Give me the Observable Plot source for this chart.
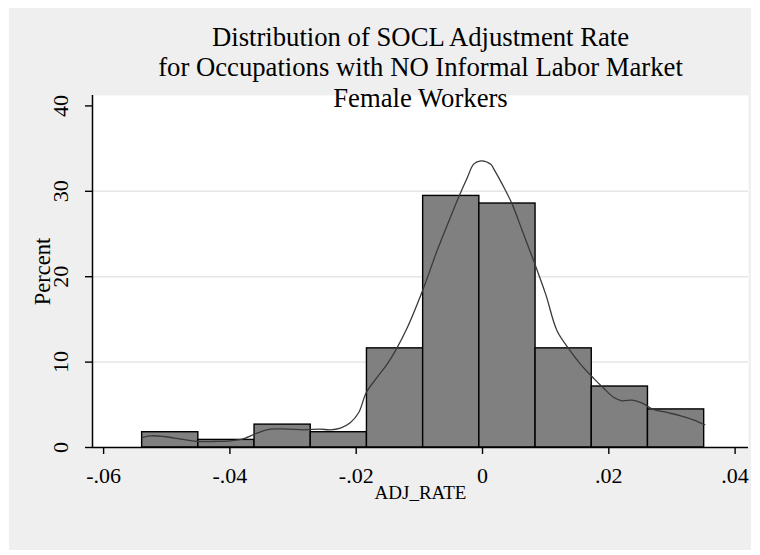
<!DOCTYPE html>
<html>
<head>
<meta charset="utf-8">
<script src="https://cdn.jsdelivr.net/npm/d3@7"></script>
<script src="https://cdn.jsdelivr.net/npm/@observablehq/plot@0.6"></script>
<style>
  html, body { margin: 0; padding: 0; background: #ffffff; }
  #wrap { position: relative; width: 760px; height: 555px; background: #ffffff; overflow: hidden; }
  #bg { position: absolute; left: 9px; top: 8px; width: 742px; height: 542px; background: #efefef; }
  #chart { position: absolute; left: 0; top: 0; }
  #chart svg { background: transparent; }
</style>
</head>
<body>
<div id="wrap"><div id="bg"></div><div id="chart"></div></div>
<script>
// ---- Data ----
const titleLines = [
  "Distribution of SOCL Adjustment Rate",
  "for Occupations with NO Informal Labor Market",
  "Female Workers"
];
const xLabel = "ADJ_RATE";
const yLabel = "Percent";

// histogram bin edges (ADJ_RATE) and bar heights (percent)
const binEdges = [-0.0539, -0.0450, -0.0361, -0.0272, -0.0183, -0.0094, -0.0005, 0.0084, 0.0173, 0.0262, 0.0351];
const binPercent = [1.79, 0.89, 2.68, 1.79, 11.61, 29.46, 28.57, 11.61, 7.14, 4.46];

// kernel density curve (scaled to percent)
const kdeX = [-0.0539, -0.0526, -0.0505, -0.0478, -0.0452, -0.0425, -0.0399, -0.0378, -0.0357, -0.0336,
  -0.0309, -0.0283, -0.0257, -0.0241, -0.0225, -0.0209, -0.0196, -0.0184, -0.0167, -0.0151,
  -0.0138, -0.0119, -0.0095, -0.0072, -0.0051, -0.0038, -0.0024, -0.0014, -0.0003, 0.0013,
  0.0018, 0.0034, 0.0047, 0.0063, 0.0081, 0.0100, 0.0118, 0.0137, 0.0155, 0.0176,
  0.0192, 0.0208, 0.0221, 0.0237, 0.0253, 0.0269, 0.0292, 0.0314, 0.0335, 0.0352];
const kdeY = [1.17, 1.37, 1.29, 0.98, 0.70, 0.70, 0.78, 1.05, 1.69, 2.15,
  2.15, 2.07, 2.15, 2.07, 2.27, 2.93, 4.10, 6.44, 8.20, 9.77,
  11.32, 14.05, 18.35, 23.03, 26.93, 29.27, 31.62, 33.18, 33.57, 33.18,
  32.60, 30.44, 28.50, 25.37, 21.86, 17.96, 13.67, 11.52, 9.77, 8.10,
  6.93, 5.85, 5.47, 5.55, 5.20, 4.50, 4.10, 3.71, 3.21, 2.66];

// axes
const xTicks = [-0.06, -0.04, -0.02, 0, 0.02, 0.04];
const xTickLabels = ["-.06", "-.04", "-.02", "0", ".02", ".04"];
const yTicks = [0, 10, 20, 30, 40];
const yGrid = [10, 20, 30];
const xDomain = [-0.06176, 0.04212];
const yDomain = [0, 41.22];

// ---- Build tables ----
const bins = binPercent.map((p, i) => ({x1: binEdges[i], x2: binEdges[i + 1], pct: p}));
const kde = kdeX.map((x, i) => ({x, y: kdeY[i]}));

const serif = "'Liberation Serif', 'Times New Roman', Times, serif";

const chart = Plot.plot({
  width: 760,
  height: 555,
  marginLeft: 92,
  marginRight: 12,
  marginTop: 95,
  marginBottom: 108,
  style: {fontFamily: serif, background: "transparent", color: "#000"},
  x: {domain: xDomain, label: null},
  y: {domain: yDomain, label: null},
  marks: [
    Plot.frame({fill: "#ffffff", stroke: "none"}),
    Plot.gridY(yGrid, {stroke: "#e6e6e6", strokeOpacity: 1, strokeWidth: 1.5}),
    Plot.rectX(bins, {x1: "x1", x2: "x2", y1: 0, y2: "pct", fill: "#808080", stroke: "#000", strokeWidth: 1.4}),
    Plot.line(kde, {x: "x", y: "y", stroke: "#3a3a3a", strokeWidth: 1.3, curve: "catmull-rom"}),
    Plot.ruleY([0], {stroke: "#000", strokeWidth: 1.5}),
    Plot.ruleX([xDomain[0]], {stroke: "#000", strokeWidth: 1.5}),
    Plot.axisX({
      ticks: xTicks,
      tickFormat: (d, i) => xTickLabels[i],
      tickSize: 7,
      tickPadding: 13,
      fontSize: 22,
      stroke: "#000",
      strokeWidth: 1.4,
      label: null
    }),
    Plot.axisY({
      ticks: yTicks,
      tickSize: 7,
      tickPadding: 18,
      tickRotate: -90,
      fontSize: 22,
      stroke: "#000",
      strokeWidth: 1.4,
      label: null
    }),
    Plot.text([titleLines[0]], {frameAnchor: "top", textAnchor: "middle", lineAnchor: "bottom", dy: -50, fontSize: 26.7, fill: "#000"}),
    Plot.text([titleLines[1]], {frameAnchor: "top", textAnchor: "middle", lineAnchor: "bottom", dy: -20, fontSize: 26.7, fill: "#000"}),
    Plot.text([titleLines[2]], {frameAnchor: "top", textAnchor: "middle", lineAnchor: "bottom", dy: 11, fontSize: 26.7, fill: "#000"}),
    Plot.text([xLabel], {frameAnchor: "bottom", textAnchor: "middle", lineAnchor: "bottom", dy: 51, fontSize: 19, fill: "#000"}),
    Plot.text([yLabel], {frameAnchor: "left", textAnchor: "middle", lineAnchor: "bottom", rotate: -90, dx: -42.5, fontSize: 22.5, fill: "#000"})
  ]
});

document.getElementById("chart").appendChild(chart);
</script>
</body>
</html>
